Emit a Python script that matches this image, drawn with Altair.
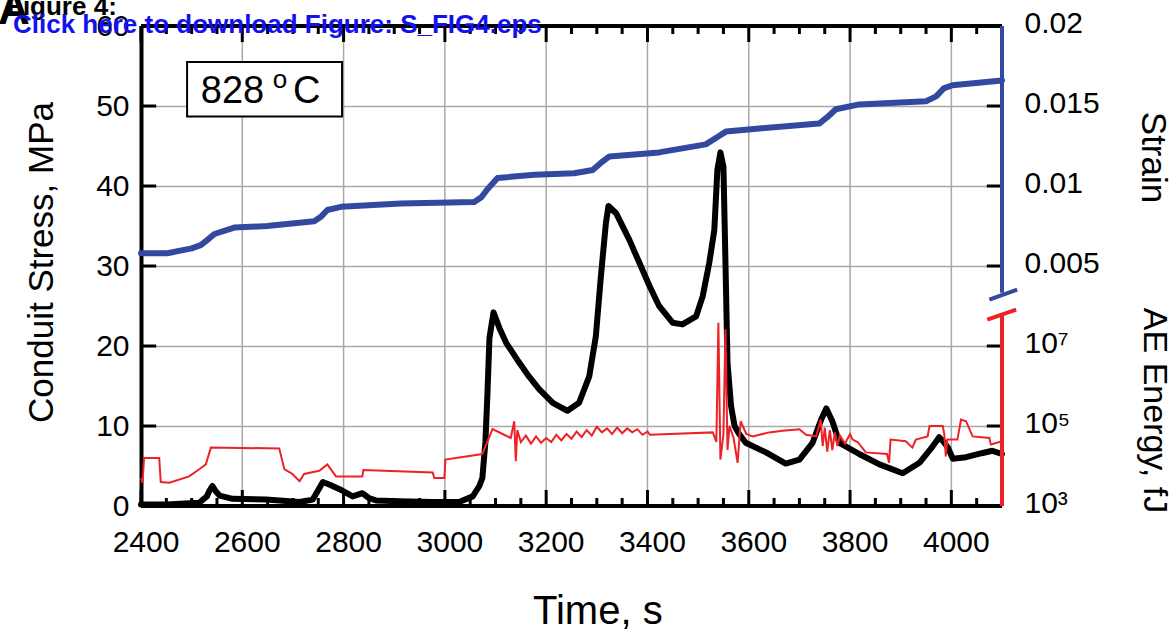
import altair as alt
import pandas as pd

# ---------------- data ----------------
stress_time = [2400, 2450, 2515, 2530, 2535, 2541, 2548, 2555, 2581, 2647, 2713, 2739, 2750, 2759,
               2775, 2792, 2818, 2837, 2850, 2864, 2910, 2976, 3028, 3055, 3068, 3074, 3080, 3084,
               3088, 3096, 3108, 3121, 3147, 3166, 3186, 3213, 3242, 3265, 3285, 3298, 3308, 3318,
               3323, 3338, 3364, 3384, 3404, 3423, 3450, 3469, 3496, 3509, 3522, 3532, 3538, 3544,
               3550, 3554, 3558, 3565, 3572, 3581, 3594, 3634, 3673, 3700, 3726, 3743, 3753, 3765,
               3779, 3818, 3858, 3904, 3937, 3960, 3976, 3985, 3993, 4003, 4029, 4060, 4081, 4100]
stress_mpa = [0.2, 0.2, 0.4, 1.2, 1.9, 2.5, 1.8, 1.3, 0.9, 0.8, 0.5, 0.8, 2.0, 3.0,
              2.6, 2.1, 1.2, 1.6, 1.0, 0.7, 0.6, 0.5, 0.5, 1.2, 2.5, 3.5, 8.0, 14.0,
              21.0, 24.2, 22.2, 20.4, 17.9, 16.2, 14.6, 12.9, 11.9, 12.9, 16.2, 21.2, 28.7, 35.4,
              37.5, 36.6, 33.3, 30.4, 27.5, 25.0, 22.9, 22.7, 23.7, 26.2, 30.4, 34.5, 42.0, 44.2,
              42.4, 30.4, 17.9, 12.5, 10.0, 9.0, 7.9, 6.7, 5.3, 5.8, 7.9, 10.8, 12.2, 10.6,
              7.9, 6.5, 5.2, 4.1, 5.4, 7.2, 8.6, 8.0, 7.3, 5.9, 6.1, 6.6, 6.9, 6.5]

strain_time = [2400, 2452, 2500, 2518, 2530, 2545, 2584, 2649, 2742, 2756, 2768, 2795, 2913, 3058,
               3072, 3084, 3104, 3177, 3255, 3292, 3310, 3325, 3423, 3515, 3535, 3555, 3621, 3739,
               3755, 3772, 3818, 3950, 3970, 3985, 4002, 4100]
strain_vals = [0.0058, 0.0058, 0.0061, 0.0063, 0.0066, 0.0070, 0.0074, 0.0075, 0.0078, 0.0081,
               0.0085, 0.0087, 0.0089, 0.0090, 0.0093, 0.0098, 0.0105, 0.0107, 0.0108, 0.0110,
               0.0115, 0.01185, 0.0121, 0.0126, 0.0130, 0.0134, 0.0136, 0.0139, 0.0143, 0.0148,
               0.0151, 0.0153, 0.0156, 0.0161, 0.0163, 0.0166]

ae_time = [2400, 2403, 2406, 2436, 2439, 2456, 2495, 2515, 2528, 2538, 2673, 2683, 2699, 2713,
           2722, 2752, 2768, 2785, 2837, 2839, 2976, 2979, 2999, 3001, 3074, 3094, 3114, 3130,
           3137, 3140, 3143, 3150, 3160, 3170, 3180, 3190, 3200, 3210, 3220, 3230, 3240, 3250,
           3260, 3270, 3280, 3290, 3300, 3310, 3320, 3330, 3340, 3350, 3360, 3370, 3380, 3390,
           3400, 3405, 3529, 3536, 3540, 3544, 3550, 3554, 3558, 3562, 3570, 3578, 3584, 3595,
           3608, 3640, 3667, 3700, 3713, 3733, 3742, 3746, 3750, 3755, 3760, 3765, 3770, 3775,
           3780, 3790, 3800, 3805, 3815, 3831, 3873, 3877, 3880, 3910, 3923, 3930, 3953, 3957,
           3983, 3986, 3989, 3992, 4012, 4019, 4029, 4042, 4075, 4078, 4100]
ae_log10 = [3.70, 3.58, 4.20, 4.20, 3.60, 3.58, 3.74, 3.92, 4.04, 4.46, 4.44, 3.92, 3.80, 3.62,
            3.80, 3.88, 4.04, 3.74, 3.74, 3.90, 3.84, 3.70, 3.70, 4.16, 4.30, 4.92, 4.80, 4.70,
            5.12, 4.12, 4.90, 4.60, 4.76, 4.56, 4.74, 4.58, 4.70, 4.60, 4.78, 4.64, 4.80, 4.68,
            4.86, 4.72, 4.90, 4.76, 4.98, 4.84, 4.94, 4.80, 4.96, 4.82, 4.94, 4.84, 4.92, 4.78,
            4.86, 4.78, 4.84, 4.60, 7.58, 4.16, 4.80, 7.42, 4.40, 5.00, 4.70, 4.08, 5.12, 4.80,
            4.74, 4.84, 4.88, 4.92, 4.78, 4.74, 5.16, 4.50, 4.96, 4.36, 4.90, 4.40, 4.84, 4.50,
            4.76, 4.56, 4.80, 4.66, 4.60, 4.34, 4.30, 4.08, 4.66, 4.62, 4.46, 4.66, 4.74, 5.00,
            5.00, 4.80, 4.24, 4.66, 4.66, 5.16, 5.12, 4.74, 4.70, 4.54, 4.62]

x_major = [2400, 2600, 2800, 3000, 3200, 3400, 3600, 3800, 4000]
stress_ticks = [0, 10, 20, 30, 40, 50, 60]
strain_ticks = [0.005, 0.01, 0.015, 0.02]
ae_ticks = [1e3, 1e5, 1e7]

# ---------------- styling ----------------
FONT = "Liberation Sans"
BLACK = "#000000"
BLUE = "#3349a0"
RED = "#ee2226"
GRID = "#a8a8a8"
T0, T1 = 2400, 4100

stress_df = pd.DataFrame({"time": stress_time, "stress": stress_mpa})
strain_df = pd.DataFrame({"time": strain_time, "strain": strain_vals})
ae_df = pd.DataFrame({"time": ae_time, "energy": [10 ** v for v in ae_log10]})
one = pd.DataFrame({"a": [0]})

x_minor = [t for t in range(2450, 4100, 50) if t % 200 != 0]
bt = pd.DataFrame({"t": list(x_major) + x_minor,
                   "len": [2.0] * len(x_major) + [1.0] * len(x_minor)})
bt["b0"] = 0.0
bt["b1"] = bt["len"]
bt["t0"] = 60.0
bt["t1"] = 60.0 - bt["len"]
lt = pd.DataFrame({"v": [10, 20, 30, 40, 50], "x0": T0, "x1": T0 + 30})
st = pd.DataFrame({"v": strain_ticks, "x0": T1 - 30, "x1": T1})
et = pd.DataFrame({"v": [1e5, 1e7], "x0": T1 - 30, "x1": T1})
xl = pd.DataFrame({"t": x_major, "label": [str(v) for v in x_major], "ly": -2.75})
xg = pd.DataFrame({"t": x_major[1:], "g0": 0.0, "g1": 60.0})


def xs():
    return alt.Scale(domain=[T0, T1], nice=False, zero=False)


def ys():
    return alt.Scale(domain=[0, 60], nice=False, zero=False)


def ss():
    return alt.Scale(domain=[-0.01, 0.02], nice=False, zero=False)


def es():
    return alt.Scale(type="log", domain=[1e3, 1e15], nice=False)


y_axis = alt.Axis(orient="left", values=stress_ticks, grid=True, gridColor=GRID, gridWidth=1.5,
                  ticks=False, tickSize=0, domainColor=BLACK, domainWidth=4, labelFont=FONT,
                  labelFontSize=30, labelColor=BLACK, labelPadding=12, labelFlush=False,
                  labelOverlap=False, title="Conduit Stress, MPa", titleFont=FONT, titleFontSize=35,
                  titleFontWeight="normal", titleColor=BLACK, titleX=-100, titleY=236, titleAngle=270,
                  titleAlign="center", titleBaseline="middle")
strain_axis = alt.Axis(orient="right", values=strain_ticks, labelExpr="'' + datum.value",
                       grid=False, domain=False,
                       ticks=False, tickSize=0, labelFont=FONT, labelFontSize=30, labelColor=BLACK,
                       labelPadding=22, labelOffset=-3, labelFlush=False, labelOverlap=False,
                       title="Strain", titleFont=FONT, titleFontSize=35, titleFontWeight="normal",
                       titleColor=BLACK, titleAngle=90, titleX=150, titleY=131, titleAlign="center",
                       titleBaseline="middle")
ae_axis = alt.Axis(orient="right", values=ae_ticks, grid=False, domain=False, ticks=False, tickSize=0,
                   labelExpr="datum.value < 1e4 ? '10\u00b3' : (datum.value < 1e6 ? '10\u2075' : '10\u2077')",
                   labelFont=FONT, labelFontSize=30, labelColor=BLACK, labelPadding=22, labelOffset=-3,
                   labelFlush=False, labelOverlap=False,
                   title="AE Energy, fJ", titleFont=FONT, titleFontSize=34, titleFontWeight="normal",
                   titleColor=BLACK, titleAngle=90, titleX=151, titleY=384, titleAlign="center",
                   titleBaseline="middle")

# ---------------- time axis drawn from the tick lists ----------------
x_grid = alt.Chart(xg).mark_rule(color=GRID, strokeWidth=1.5).encode(
    x=alt.X("t:Q", scale=xs(), axis=None), y=alt.Y("g0:Q", scale=ys(), axis=None), y2="g1:Q")
x_labels = alt.Chart(xl).mark_text(font=FONT, fontSize=30, color=BLACK, align="center",
                                   baseline="top", dx=5).encode(
    x=alt.X("t:Q", scale=xs(), axis=None), y=alt.Y("ly:Q", scale=ys(), axis=None), text="label:N")
x_title = alt.Chart(one).mark_text(text="Time, s", font=FONT, fontSize=40, color=BLACK,
                                   align="center", baseline="middle").encode(
    x=alt.XDatum(3302, scale=xs(), axis=None), y=alt.YDatum(-13.3, scale=ys(), axis=None))
bottom_frame = alt.Chart(one).mark_rule(color=BLACK, strokeWidth=4).encode(
    x=alt.XDatum(T0, scale=xs(), axis=None), x2=alt.X2Datum(T1),
    y=alt.YDatum(0, scale=ys(), axis=None))

# ---------------- stress (left axis) ----------------
stress_line = alt.Chart(stress_df).mark_line(color=BLACK, strokeWidth=6, strokeJoin="round",
                                             strokeCap="round").encode(
    x=alt.X("time:Q", scale=xs(), axis=None),
    y=alt.Y("stress:Q", scale=ys(), axis=y_axis),
)
bottom_ticks = alt.Chart(bt).mark_rule(color=BLACK, strokeWidth=3).encode(
    x=alt.X("t:Q", scale=xs(), axis=None), y=alt.Y("b0:Q", scale=ys(), axis=None), y2="b1:Q")
top_ticks = alt.Chart(bt).mark_rule(color=BLACK, strokeWidth=3).encode(
    x=alt.X("t:Q", scale=xs(), axis=None), y=alt.Y("t0:Q", scale=ys(), axis=None), y2="t1:Q")
left_ticks = alt.Chart(lt).mark_rule(color=BLACK, strokeWidth=3).encode(
    x=alt.X("x0:Q", scale=xs(), axis=None), x2="x1:Q", y=alt.Y("v:Q", scale=ys(), axis=None))
top_frame = alt.Chart(one).mark_rule(color=BLACK, strokeWidth=4).encode(
    x=alt.XDatum(T0, scale=xs(), axis=None), x2=alt.X2Datum(T1),
    y=alt.YDatum(60, scale=ys(), axis=None))
box = alt.Chart(one).mark_rect(fill="white", stroke=BLACK, strokeWidth=2).encode(
    x=alt.XDatum(2491, scale=xs(), axis=None), x2=alt.X2Datum(2797),
    y=alt.YDatum(55.5, scale=ys(), axis=None), y2=alt.Y2Datum(48.7))
box_num = alt.Chart(one).mark_text(text="828", font=FONT, fontSize=38, color=BLACK,
                                   align="left", baseline="alphabetic").encode(
    x=alt.XDatum(2518, scale=xs(), axis=None), y=alt.YDatum(50.4, scale=ys(), axis=None))
box_deg = alt.Chart(one).mark_text(text="o", font=FONT, fontSize=26, color=BLACK,
                                   align="left", baseline="alphabetic").encode(
    x=alt.XDatum(2660, scale=xs(), axis=None), y=alt.YDatum(52.3, scale=ys(), axis=None))
box_c = alt.Chart(one).mark_text(text="C", font=FONT, fontSize=38, color=BLACK,
                                 align="left", baseline="alphabetic").encode(
    x=alt.XDatum(2700, scale=xs(), axis=None), y=alt.YDatum(50.4, scale=ys(), axis=None))

# ---------------- strain (right, upper) ----------------
strain_line = alt.Chart(strain_df).mark_line(color=BLUE, strokeWidth=6, strokeJoin="round",
                                             strokeCap="round").encode(
    x=alt.X("time:Q", scale=xs(), axis=None),
    y=alt.Y("strain:Q", scale=ss(), axis=strain_axis),
)
strain_tick_marks = alt.Chart(st).mark_rule(color=BLACK, strokeWidth=3).encode(
    x=alt.X("x0:Q", scale=xs(), axis=None), x2="x1:Q", y=alt.Y("v:Q", scale=ss(), axis=None))
blue_axis = alt.Chart(one).mark_rule(color=BLUE, strokeWidth=4).encode(
    x=alt.XDatum(T1, scale=xs(), axis=None),
    y=alt.YDatum(0.02, scale=ss(), axis=None), y2=alt.Y2Datum(0.00333))
blue_slash = alt.Chart(one).mark_rule(color=BLUE, strokeWidth=4).encode(
    x=alt.XDatum(4075, scale=xs(), axis=None), x2=alt.X2Datum(4130),
    y=alt.YDatum(0.0029, scale=ss(), axis=None), y2=alt.Y2Datum(0.00353))

# ---------------- AE energy (right, lower, log) ----------------
ae_line = alt.Chart(ae_df).mark_line(color=RED, strokeWidth=2).encode(
    x=alt.X("time:Q", scale=xs(), axis=None),
    y=alt.Y("energy:Q", scale=es(), axis=ae_axis),
)
ae_tick_marks = alt.Chart(et).mark_rule(color=BLACK, strokeWidth=3).encode(
    x=alt.X("x0:Q", scale=xs(), axis=None), x2="x1:Q", y=alt.Y("v:Q", scale=es(), axis=None))
red_axis = alt.Chart(one).mark_rule(color=RED, strokeWidth=4).encode(
    x=alt.XDatum(T1, scale=xs(), axis=None),
    y=alt.YDatum(1e3, scale=es(), axis=None), y2=alt.Y2Datum(6.2e7))
red_slash = alt.Chart(one).mark_rule(color=RED, strokeWidth=4).encode(
    x=alt.XDatum(4071, scale=xs(), axis=None), x2=alt.X2Datum(4128),
    y=alt.YDatum(4.57e7, scale=es(), axis=None), y2=alt.Y2Datum(8.1e7))

# ---------------- header texts (pixel positions) ----------------
fig_text = alt.Chart(one).mark_text(text="Figure 4:", font=FONT, fontSize=26, fontWeight="bold",
                                    color=BLACK, align="left", baseline="alphabetic").encode(
    x=alt.value(-134), y=alt.value(-11))
a_text = alt.Chart(one).mark_text(text="A", font=FONT, fontSize=44, fontWeight="bold",
                                  color=BLACK, align="left", baseline="alphabetic").encode(
    x=alt.value(-143), y=alt.value(-2))
link_text = alt.Chart(one).mark_text(text="Click here to download Figure: S_FIG4.eps", font=FONT,
                                     fontSize=26, fontWeight="bold", color="#1212f0", align="left",
                                     baseline="alphabetic").encode(
    x=alt.value(-128), y=alt.value(7))

chart = alt.layer(
    x_grid, stress_line, x_labels, x_title, bottom_frame,
    bottom_ticks, top_ticks, left_ticks, top_frame, box, box_num, box_deg, box_c,
    strain_tick_marks, blue_axis, blue_slash, strain_line,
    ae_tick_marks, ae_line, red_axis, red_slash,
    fig_text, a_text, link_text,
).resolve_scale(y="independent").properties(
    width=861, height=480,
    autosize=alt.AutoSizeParams(type="none"),
    padding={"left": 141, "top": 26, "right": 171, "bottom": 128},
    background="white",
).configure_view(stroke="transparent")

chart.save("out.html", embed_options={"renderer": "svg", "actions": False})
